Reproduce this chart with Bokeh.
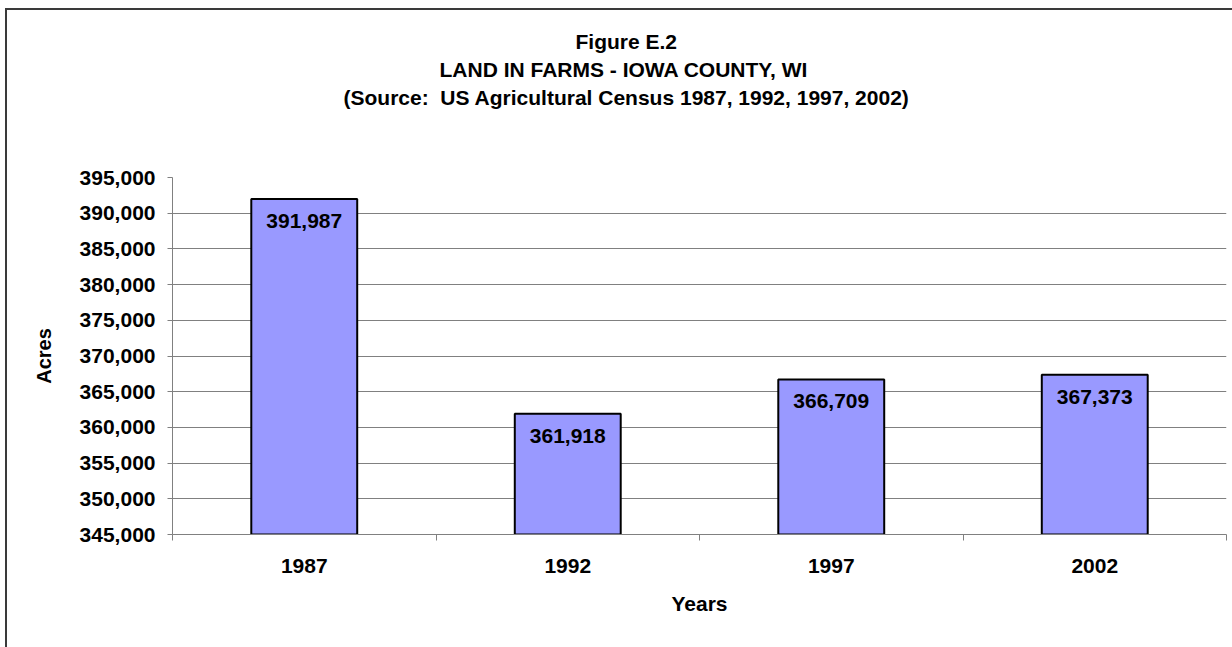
import numpy as np
from bokeh.plotting import figure
from bokeh.models import (Range1d, FixedTicker, SingleIntervalTicker, NumeralTickFormatter,
                          Title, ColumnDataSource)
from bokeh.core.properties import value
from bokeh.embed import file_html
from bokeh.resources import INLINE

# ---- data ----
years = ["1987", "1992", "1997", "2002"]
acres = [391987, 361918, 366709, 367373]
y_start, y_end, y_step = 345000, 395000, 5000
title_lines = [
    "Figure E.2",
    "LAND IN FARMS - IOWA COUNTY, WI",
    "(Source:\u00a0 US Agricultural Census 1987, 1992, 1997, 2002)",
]
# left offsets (px from plot-area left) that centre each title line on the chart box
title_offsets = [403, 267, 171]

FONT = "Liberation Sans"
n = len(years)
centers = list(np.arange(n) + 0.5)
bounds = list(np.arange(n + 1).astype(float))
labels = [f"{v:,}" for v in acres]

src = ColumnDataSource(dict(x=centers, top=acres, label=labels))

p = figure(width=1225, height=637, output_backend="svg", toolbar_location=None,
           x_range=Range1d(0, n), y_range=Range1d(y_start, y_end),
           min_border_left=165, min_border_right=6, min_border_top=167, min_border_bottom=113,
           frame_width=1054, frame_height=357)
p.styles = {"margin-left": "5px", "margin-top": "8px",
            "border-left": "2px solid #3a3a3a", "border-top": "2px solid #3a3a3a"}
p.outline_line_color = None
p.background_fill_color = "white"
p.border_fill_color = "white"

# spacer nearest the plot area, then the title lines outward
p.add_layout(Title(text=" ", text_font_size="1px", standoff=64), "above")
for t, off in reversed(list(zip(title_lines, title_offsets))):
    p.add_layout(Title(text=t, align="left", offset=off, text_font=FONT, text_font_size="21px",
                       text_font_style="bold", text_color="black", standoff=3), "above")

p.vbar(x="x", top="top", bottom=y_start, width=0.402, source=src,
       fill_color="#9999FF", line_color="black", line_width=2)
p.text(x="x", y="top", text="label", source=src, text_align="center",
       text_baseline="alphabetic", y_offset=22, text_font=value(FONT),
       text_font_size="21px", text_font_style="bold", text_color="black")

# x axis
xa = p.xaxis[0]
xa.ticker = FixedTicker(ticks=centers, minor_ticks=bounds)
xa.major_label_overrides = {c: y for c, y in zip(centers, years)}
xa.major_tick_out = 0
xa.major_tick_in = 0
xa.minor_tick_out = 6
xa.minor_tick_in = 0
xa.minor_tick_line_color = "#808080"
xa.axis_line_color = "#808080"
xa.major_label_standoff = 18
xa.major_label_text_font = FONT
xa.major_label_text_font_size = "21px"
xa.major_label_text_font_style = "bold"
xa.major_label_text_color = "black"
xa.axis_label = "Years"
xa.axis_label_text_font = FONT
xa.axis_label_text_font_size = "21px"
xa.axis_label_text_font_style = "bold"
xa.axis_label_text_color = "black"
xa.axis_label_standoff = 16

# y axis
ya = p.yaxis[0]
ya.ticker = SingleIntervalTicker(interval=y_step, num_minor_ticks=0)
ya.formatter = NumeralTickFormatter(format="0,0")
ya.major_tick_out = 5
ya.major_tick_in = 0
ya.minor_tick_out = 0
ya.minor_tick_in = 0
ya.major_tick_line_color = "#808080"
ya.axis_line_color = "#808080"
ya.major_label_standoff = 12
ya.major_label_text_font = FONT
ya.major_label_text_font_size = "21px"
ya.major_label_text_font_style = "bold"
ya.major_label_text_color = "black"
ya.axis_label = "Acres"
ya.axis_label_text_font = FONT
ya.axis_label_text_font_size = "20px"
ya.axis_label_text_font_style = "bold"
ya.axis_label_text_color = "black"
ya.axis_label_standoff = 22

p.xgrid.grid_line_color = None
p.ygrid.grid_line_color = "#808080"
p.ygrid.grid_line_width = 1

open("out.html", "w").write(file_html(p, INLINE))
